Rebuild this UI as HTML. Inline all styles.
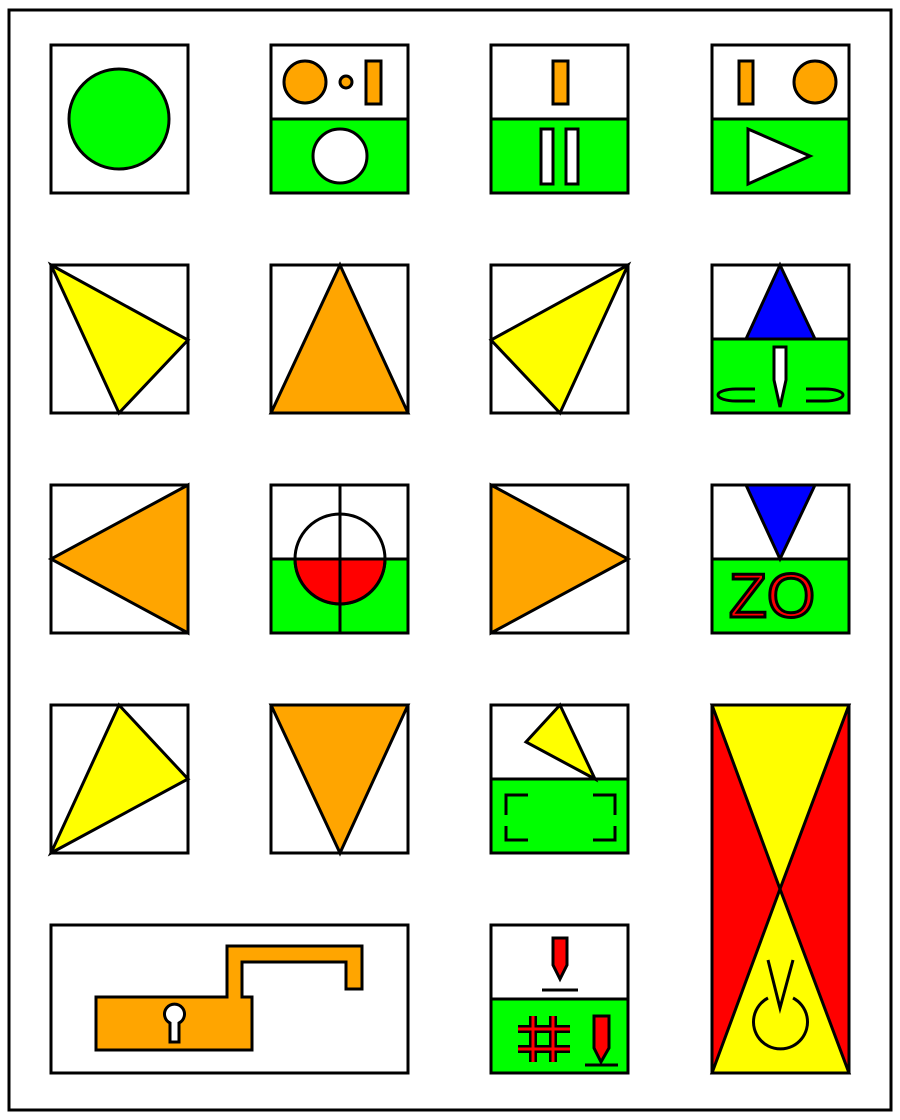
<!DOCTYPE html>
<html><head><meta charset="utf-8"><style>html,body{margin:0;padding:0;background:#fff}svg{display:block}</style></head>
<body>
<svg width="900" height="1120" viewBox="0 0 900 1120" xmlns="http://www.w3.org/2000/svg" stroke="#000" stroke-width="3" stroke-linejoin="miter">
<rect x="9" y="10" width="882" height="1100" fill="#fff"/>

<g>
<rect x="51" y="45" width="137" height="148" fill="#fff"/>
<circle cx="119" cy="119" r="50" fill="#00ff00"/>
</g>
<g>
<rect x="271" y="45" width="137" height="74" fill="#fff"/>
<rect x="271" y="119" width="137" height="74" fill="#00ff00"/>
<circle cx="305" cy="82" r="21" fill="#ffa500"/>
<circle cx="346" cy="82" r="6" fill="#ffa500"/>
<rect x="366" y="61" width="15" height="43" fill="#ffa500"/>
<circle cx="340" cy="156" r="27" fill="#fff"/>
</g>
<g>
<rect x="491" y="45" width="137" height="74" fill="#fff"/>
<rect x="491" y="119" width="137" height="74" fill="#00ff00"/>
<rect x="553" y="61" width="15" height="43" fill="#ffa500"/>
<rect x="541" y="129" width="12" height="55" fill="#fff"/>
<rect x="566" y="129" width="12" height="55" fill="#fff"/>
</g>
<g>
<rect x="712" y="45" width="137" height="74" fill="#fff"/>
<rect x="712" y="119" width="137" height="74" fill="#00ff00"/>
<rect x="739" y="61" width="14" height="43" fill="#ffa500"/>
<circle cx="815" cy="82" r="21" fill="#ffa500"/>
<polygon points="748,129 810,156 748,184" fill="#fff"/>
</g>

<g>
<rect x="51" y="265" width="137" height="148" fill="#fff"/>
<polygon points="51,265 188,340 119,413" fill="#ffff00"/>
</g>
<g>
<rect x="271" y="265" width="137" height="148" fill="#fff"/>
<polygon points="340,265 408,413 271,413" fill="#ffa500"/>
</g>
<g>
<rect x="491" y="265" width="137" height="148" fill="#fff"/>
<polygon points="628,265 491,340 560,413" fill="#ffff00"/>
</g>
<g>
<rect x="712" y="265" width="137" height="74" fill="#fff"/>
<rect x="712" y="339" width="137" height="74" fill="#00ff00"/>
<polygon points="780,265 815,339 746,339" fill="#0000ff"/>
<polygon points="774,347 786,347 786,380 780,407 774,380" fill="#fff"/>
<path d="M755,389 L736,389 A18,6 0 0 0 736,401 L755,401" fill="none"/>
<path d="M806,389 L825,389 A18,6 0 0 1 825,401 L806,401" fill="none"/>
</g>

<g>
<rect x="51" y="485" width="137" height="148" fill="#fff"/>
<polygon points="188,485 51,559 188,633" fill="#ffa500"/>
</g>
<g>
<rect x="271" y="485" width="137" height="74" fill="#fff"/>
<rect x="271" y="559" width="137" height="74" fill="#00ff00"/>
<path d="M295,559 A45,45 0 0 0 385,559 Z" fill="#ff0000"/>
<circle cx="340" cy="559" r="45" fill="none"/>
<line x1="340" y1="485" x2="340" y2="633"/>
<line x1="271" y1="559" x2="408" y2="559"/>
</g>
<g>
<rect x="491" y="485" width="137" height="148" fill="#fff"/>
<polygon points="491,485 628,559 491,633" fill="#ffa500"/>
</g>
<g>
<rect x="712" y="485" width="137" height="74" fill="#fff"/>
<rect x="712" y="559" width="137" height="74" fill="#00ff00"/>
<polygon points="746,485 815,485 780,559" fill="#0000ff"/>
<text x="729" y="617" font-family="Liberation Sans, sans-serif" font-size="62" fill="#ff0000" stroke="#000" stroke-width="3">ZO</text>
</g>

<g>
<rect x="51" y="705" width="137" height="148" fill="#fff"/>
<polygon points="119,705 188,779 51,853" fill="#ffff00"/>
</g>
<g>
<rect x="271" y="705" width="137" height="148" fill="#fff"/>
<polygon points="271,705 408,705 340,853" fill="#ffa500"/>
</g>
<g>
<rect x="491" y="705" width="137" height="74" fill="#fff"/>
<rect x="491" y="779" width="137" height="74" fill="#00ff00"/>
<polygon points="560,705 526,742 595,779" fill="#ffff00"/>
<path d="M528,795 L506,795 L506,815 M528,840 L506,840 L506,826 M593,795 L615,795 L615,815 M593,840 L615,840 L615,826" fill="none"/>
</g>
<g>
<rect x="712" y="705" width="137" height="368" fill="#ff0000"/>
<polygon points="712,705 849,705 780,889" fill="#ffff00"/>
<polygon points="780,889 849,1073 712,1073" fill="#ffff00"/>
<path d="M768,998 A27,27 0 1 0 793,998" fill="none"/>
<path d="M768,960 L780,1008 L793,960" fill="none"/>
</g>

<g>
<rect x="51" y="925" width="357" height="148" fill="#fff"/>
<path d="M96,997 L227,997 L227,946 L362,946 L362,989 L346,989 L346,962 L242,962 L242,997 L252,997 L252,1050 L96,1050 Z" fill="#ffa500"/>
<path d="M170,1042 L170,1023 A10,10 0 1 1 179,1023 L179,1042 Z" fill="#fff"/>
</g>
<g>
<rect x="491" y="925" width="137" height="74" fill="#fff"/>
<rect x="491" y="999" width="137" height="74" fill="#00ff00"/>
<polygon points="553,938 567,938 567,965 560,979 553,965" fill="#ff0000"/>
<line x1="542" y1="990" x2="578" y2="990"/>
<path d="M533,1016 V1062 M553,1016 V1062 M518,1029 H570 M518,1049 H570" fill="none" stroke="#000" stroke-width="8"/>
<path d="M533,1016 V1062 M553,1016 V1062 M518,1029 H570 M518,1049 H570" fill="none" stroke="#ff0000" stroke-width="3"/>
<polygon points="594,1016 609,1016 609,1048 601,1062 594,1048" fill="#ff0000"/>
<line x1="585" y1="1065" x2="618" y2="1065"/>
</g>
</svg>
</body></html>
